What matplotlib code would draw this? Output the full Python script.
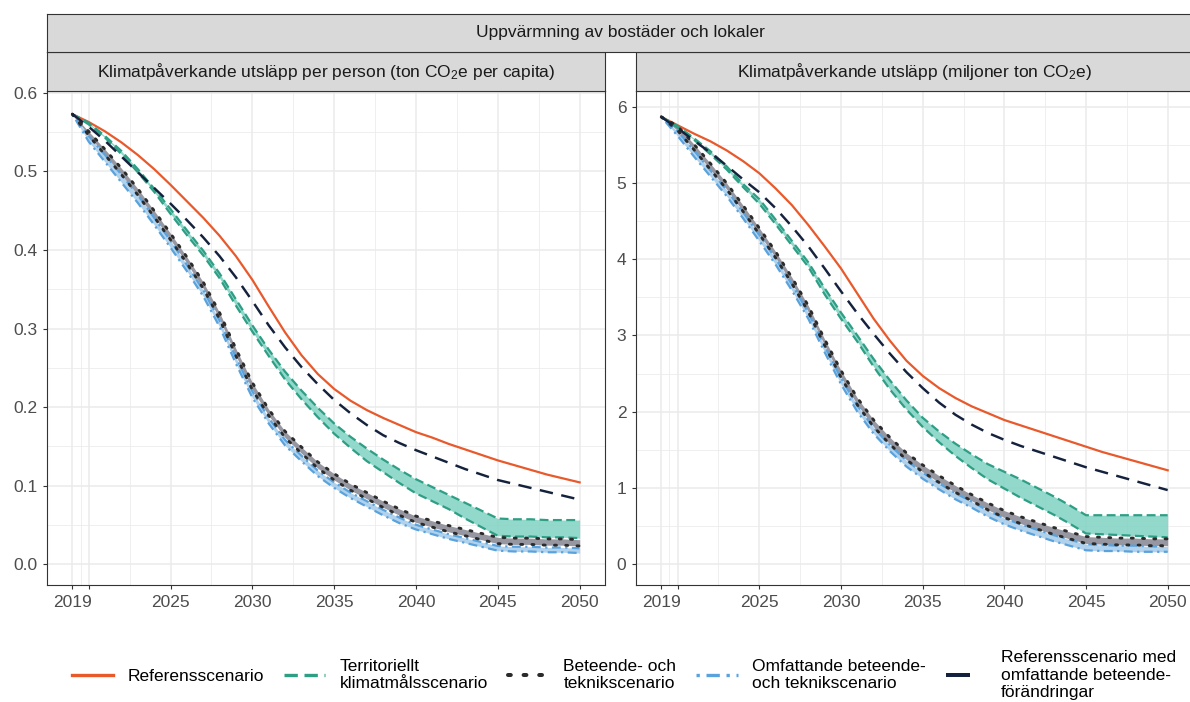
import numpy as np
import matplotlib.pyplot as plt
from matplotlib.lines import Line2D

plt.rcParams['font.family'] = ['Liberation Sans', 'DejaVu Sans']
plt.rcParams['mathtext.fontset'] = 'custom'
plt.rcParams['mathtext.rm'] = 'Liberation Sans'
plt.rcParams['mathtext.default'] = 'regular'

# ---- data ----
years = list(range(2019, 2051))

# per capita (ton CO2e per person)
ref_pc = [0.573, 0.563, 0.551, 0.537, 0.521, 0.503, 0.483, 0.462, 0.441, 0.418, 0.392, 0.362,
          0.328, 0.295, 0.266, 0.242, 0.223, 0.208, 0.196, 0.186, 0.177, 0.168, 0.161, 0.153,
          0.146, 0.139, 0.132, 0.126, 0.120, 0.114, 0.109, 0.104]
refbeh_pc = [0.573, 0.557, 0.539, 0.519, 0.499, 0.479, 0.459, 0.438, 0.416, 0.392, 0.365, 0.335,
             0.304, 0.276, 0.251, 0.229, 0.209, 0.192, 0.177, 0.164, 0.154, 0.145, 0.137, 0.129,
             0.121, 0.114, 0.107, 0.102, 0.097, 0.092, 0.087, 0.082]
terr_hi_pc = [0.573, 0.562, 0.545, 0.526, 0.503, 0.478, 0.452, 0.425, 0.399, 0.370, 0.337, 0.304,
              0.273, 0.245, 0.221, 0.199, 0.179, 0.162, 0.147, 0.133, 0.120, 0.108, 0.098, 0.088,
              0.078, 0.068, 0.058, 0.057, 0.057, 0.056, 0.056, 0.056]
terr_lo_pc = [0.573, 0.560, 0.543, 0.522, 0.499, 0.474, 0.446, 0.419, 0.393, 0.364, 0.329, 0.296,
              0.265, 0.235, 0.210, 0.187, 0.166, 0.148, 0.131, 0.117, 0.103, 0.090, 0.080, 0.070,
              0.058, 0.047, 0.036, 0.035, 0.035, 0.034, 0.034, 0.033]
bet_hi_pc = [0.573, 0.551, 0.528, 0.504, 0.478, 0.450, 0.421, 0.391, 0.359, 0.320, 0.274, 0.231,
             0.197, 0.169, 0.149, 0.130, 0.115, 0.102, 0.091, 0.080, 0.070, 0.061, 0.055, 0.049,
             0.044, 0.039, 0.034, 0.033, 0.033, 0.032, 0.032, 0.031]
bet_lo_pc = [0.573, 0.546, 0.521, 0.496, 0.470, 0.442, 0.413, 0.383, 0.351, 0.312, 0.265, 0.222,
             0.189, 0.161, 0.141, 0.122, 0.107, 0.094, 0.083, 0.072, 0.062, 0.053, 0.047, 0.041,
             0.036, 0.031, 0.026, 0.025, 0.025, 0.024, 0.024, 0.023]
omf_hi_pc = [0.573, 0.545, 0.521, 0.496, 0.470, 0.441, 0.412, 0.381, 0.349, 0.310, 0.263, 0.220,
             0.186, 0.158, 0.138, 0.119, 0.104, 0.091, 0.080, 0.069, 0.059, 0.050, 0.044, 0.038,
             0.033, 0.028, 0.023, 0.022, 0.022, 0.021, 0.021, 0.020]
omf_lo_pc = [0.573, 0.538, 0.512, 0.486, 0.460, 0.432, 0.403, 0.373, 0.341, 0.302, 0.255, 0.212,
             0.179, 0.151, 0.131, 0.112, 0.097, 0.084, 0.073, 0.062, 0.052, 0.044, 0.038, 0.032,
             0.027, 0.022, 0.017, 0.016, 0.016, 0.015, 0.015, 0.014]

# totals (million ton CO2e)
ref_tot = [5.87, 5.76, 5.65, 5.55, 5.43, 5.29, 5.13, 4.93, 4.71, 4.45, 4.17, 3.88,
           3.55, 3.22, 2.93, 2.67, 2.47, 2.31, 2.18, 2.07, 1.98, 1.89, 1.82, 1.75,
           1.68, 1.61, 1.54, 1.47, 1.41, 1.35, 1.29, 1.23]
refbeh_tot = [5.87, 5.72, 5.56, 5.40, 5.23, 5.05, 4.88, 4.67, 4.43, 4.17, 3.88, 3.58,
              3.29, 3.02, 2.76, 2.52, 2.31, 2.12, 1.96, 1.83, 1.72, 1.63, 1.55, 1.48,
              1.41, 1.34, 1.27, 1.21, 1.15, 1.09, 1.03, 0.97]
terr_hi_tot = [5.87, 5.75, 5.59, 5.42, 5.22, 4.99, 4.79, 4.52, 4.24, 3.96, 3.62, 3.30,
               3.00, 2.69, 2.41, 2.15, 1.92, 1.74, 1.58, 1.44, 1.31, 1.21, 1.11, 1.00,
               0.89, 0.77, 0.64, 0.64, 0.64, 0.64, 0.64, 0.64]
terr_lo_tot = [5.87, 5.73, 5.57, 5.38, 5.18, 4.95, 4.73, 4.46, 4.18, 3.90, 3.54, 3.22,
               2.92, 2.59, 2.29, 2.03, 1.80, 1.60, 1.42, 1.26, 1.11, 0.99, 0.87, 0.76,
               0.65, 0.53, 0.40, 0.39, 0.38, 0.37, 0.36, 0.35]
bet_hi_tot = [5.87, 5.75, 5.51, 5.26, 5.00, 4.71, 4.41, 4.10, 3.76, 3.39, 2.95, 2.54,
              2.18, 1.89, 1.66, 1.46, 1.30, 1.16, 1.03, 0.91, 0.80, 0.70, 0.62, 0.55,
              0.48, 0.42, 0.36, 0.35, 0.34, 0.34, 0.33, 0.33]
bet_lo_tot = [5.87, 5.69, 5.44, 5.18, 4.92, 4.63, 4.33, 4.02, 3.68, 3.31, 2.87, 2.45,
              2.09, 1.80, 1.57, 1.37, 1.21, 1.07, 0.94, 0.83, 0.71, 0.61, 0.53, 0.46,
              0.39, 0.33, 0.27, 0.26, 0.25, 0.25, 0.24, 0.24]
omf_hi_tot = [5.87, 5.68, 5.43, 5.17, 4.91, 4.62, 4.32, 4.01, 3.67, 3.30, 2.86, 2.44,
              2.08, 1.79, 1.56, 1.36, 1.20, 1.06, 0.93, 0.82, 0.70, 0.60, 0.52, 0.45,
              0.38, 0.32, 0.26, 0.25, 0.24, 0.24, 0.23, 0.23]
omf_lo_tot = [5.87, 5.62, 5.35, 5.09, 4.83, 4.54, 4.24, 3.93, 3.59, 3.22, 2.78, 2.36,
              2.00, 1.71, 1.48, 1.28, 1.12, 0.98, 0.85, 0.74, 0.62, 0.52, 0.44, 0.37,
              0.30, 0.24, 0.18, 0.17, 0.17, 0.16, 0.16, 0.16]

x_breaks = [2019, 2020, 2025, 2030, 2035, 2040, 2045, 2050]
x_labels = ['2019', '', '2025', '2030', '2035', '2040', '2045', '2050']
y_breaks_pc = [0.0, 0.1, 0.2, 0.3, 0.4, 0.5, 0.6]
y_breaks_tot = [0, 1, 2, 3, 4, 5, 6]

top_title = 'Uppvärmning av bostäder och lokaler'
panel_titles = ['Klimatpåverkande utsläpp per person (ton CO$_2$e per capita)',
                'Klimatpåverkande utsläpp (miljoner ton CO$_2$e)']
legend_labels = ['Referensscenario', 'Territoriellt\nklimatmålsscenario',
                 'Beteende- och\nteknikscenario', 'Omfattande beteende-\noch teknikscenario',
                 'Referensscenario med\nomfattande beteende-\nförändringar']

# ---- styles ----
c_ref = '#E8592B'
c_terr = '#2E9E84'
c_terr_fill = '#7FD3C3'
c_bet = '#2B2B2B'
c_bet_fill = '#8C8C98'
c_omf = '#5AA2DC'
c_omf_fill = '#A8CDEB'
c_navy = '#15223D'
lw = 1.6
ls_ref = '-'
ls_terr = (0, (4, 2))
ls_bet = (0, (0.7, 3.2))
ls_omf = (0, (1, 2, 4, 2))
ls_navy = (0, (5.5, 3.5))

fs = 12.5
W, H = 1190, 702
fig = plt.figure(figsize=(W / 100, H / 100), dpi=100)


def fx(px):
    return px / W


def fy(py):
    return 1 - py / H


panel_x = [(47, 605), (636, 1193)]
panel_top, panel_bot = 91, 585
strip_top, strip_mid = 14, 52

datasets = [
    dict(ref=ref_pc, refbeh=refbeh_pc, terr=(terr_hi_pc, terr_lo_pc), bet=(bet_hi_pc, bet_lo_pc),
         omf=(omf_hi_pc, omf_lo_pc), ylim=(-0.0267, 0.6025), yb=y_breaks_pc,
         yl=['%.1f' % v for v in y_breaks_pc]),
    dict(ref=ref_tot, refbeh=refbeh_tot, terr=(terr_hi_tot, terr_lo_tot), bet=(bet_hi_tot, bet_lo_tot),
         omf=(omf_hi_tot, omf_lo_tot), ylim=(-0.276, 6.21), yb=y_breaks_tot,
         yl=[str(v) for v in y_breaks_tot]),
]

grid_col = '#EBEBEB'
border_col = '#333333'

for i, d in enumerate(datasets):
    x0, x1 = panel_x[i]
    ax = fig.add_axes([fx(x0), fy(panel_bot), fx(x1 - x0), (panel_bot - panel_top) / H])
    ax.set_xlim(2017.45, 2051.55)
    ax.set_ylim(*d['ylim'])

    # grid (major + minor like ggplot theme_bw)
    xminor = [(a + b) / 2 for a, b in zip(x_breaks[:-1], x_breaks[1:])]
    yb = d['yb']
    yminor = [(a + b) / 2 for a, b in zip(yb[:-1], yb[1:])]
    for v in x_breaks:
        ax.axvline(v, color=grid_col, lw=1.1, zorder=0)
    for v in xminor:
        ax.axvline(v, color=grid_col, lw=0.55, zorder=0)
    for v in yb:
        ax.axhline(v, color=grid_col, lw=1.1, zorder=0)
    for v in yminor:
        ax.axhline(v, color=grid_col, lw=0.55, zorder=0)

    # ribbons
    ax.fill_between(years, d['terr'][0], d['terr'][1], color=c_terr_fill, alpha=0.85, lw=0, zorder=1)
    ax.fill_between(years, d['omf'][0], d['omf'][1], color=c_omf_fill, alpha=0.9, lw=0, zorder=1)
    ax.fill_between(years, d['bet'][0], d['bet'][1], color=c_bet_fill, alpha=0.9, lw=0, zorder=1)

    # lines
    ax.plot(years, d['ref'], color=c_ref, lw=lw, ls=ls_ref, zorder=3)
    for arr in d['terr']:
        ax.plot(years, arr, color=c_terr, lw=lw, ls=ls_terr, zorder=3)
    for arr in d['omf']:
        ax.plot(years, arr, color=c_omf, lw=lw, ls=ls_omf, zorder=3)
    for arr in d['bet']:
        ax.plot(years, arr, color=c_bet, lw=lw * 1.3, ls=ls_bet, dash_capstyle='round', zorder=3)
    ax.plot(years, d['refbeh'], color=c_navy, lw=lw * 1.1, ls=ls_navy, zorder=3)

    ax.set_xticks(x_breaks)
    ax.set_xticklabels(x_labels)
    ax.set_yticks(yb)
    ax.set_yticklabels(d['yl'])
    ax.tick_params(axis='both', length=3, width=0.8, color=border_col, labelcolor='#4D4D4D',
                   labelsize=fs, pad=4)
    for s in ax.spines.values():
        s.set_color(border_col)
        s.set_linewidth(0.8)

    # panel strip
    sa = fig.add_axes([fx(x0), fy(panel_top), fx(x1 - x0), (panel_top - strip_mid) / H])
    sa.set_facecolor('#D9D9D9')
    sa.set_xticks([])
    sa.set_yticks([])
    for s in sa.spines.values():
        s.set_color(border_col)
        s.set_linewidth(0.8)
    sa.text(0.5, 0.5, panel_titles[i], ha='center', va='center', fontsize=fs,
            color='#1A1A1A', transform=sa.transAxes)

# top strip
ta = fig.add_axes([fx(47), fy(strip_mid), fx(1193 - 47), (strip_mid - strip_top) / H])
ta.set_facecolor('#D9D9D9')
ta.set_xticks([])
ta.set_yticks([])
for s in ta.spines.values():
    s.set_color(border_col)
    s.set_linewidth(0.8)
ta.text(0.5, 0.5, top_title, ha='center', va='center', fontsize=fs, color='#1A1A1A',
        transform=ta.transAxes)

# legend
handles = [
    Line2D([], [], color=c_ref, lw=lw * 1.5, ls=ls_ref),
    Line2D([], [], color=c_terr, lw=lw * 1.5, ls=ls_terr),
    Line2D([], [], color=c_bet, lw=lw * 1.8, ls=ls_bet, dash_capstyle='round'),
    Line2D([], [], color=c_omf, lw=lw * 1.5, ls=ls_omf),
    Line2D([], [], color=c_navy, lw=lw * 1.8, ls=(0, (6, 6))),
]
fig.legend(handles, legend_labels, loc='center', bbox_to_anchor=(fx(624), fy(675)), ncol=5,
           frameon=False, fontsize=fs, handlelength=2.4, handletextpad=0.8, columnspacing=1.15,
           labelspacing=0.2)

fig.savefig('out.png', dpi=100)
